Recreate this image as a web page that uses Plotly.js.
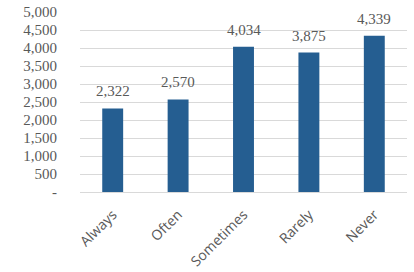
<!DOCTYPE html>
<html><head><meta charset="utf-8">
<script src="https://cdn.plot.ly/plotly-3.0.1.min.js"></script>
<style>html,body{margin:0;padding:0;background:#fff}#c{width:414px;height:272px}</style>
</head><body><div id="c"></div>
<script>
const categories = ["Always", "Often", "Sometimes", "Rarely", "Never"];
const values = [2322, 2570, 4034, 3875, 4339];
const yTickVals = [0, 500, 1000, 1500, 2000, 2500, 3000, 3500, 4000, 4500, 5000];
const yTickText = ["-", "500", "1,000", "1,500", "2,000", "2,500", "3,000", "3,500", "4,000", "4,500", "5,000"];

const trace = {
  type: "bar",
  x: categories,
  y: values,
  marker: {color: "#255e91"},
  hoverinfo: "none"
};

const annotations = categories.map((c, i) => ({
  x: c, y: values[i], xref: "x", yref: "y",
  text: values[i].toLocaleString("en-US"),
  showarrow: false, yanchor: "bottom", yshift: 7,
  font: {family: "Liberation Serif, serif", size: 15, color: "#595959"}
}));

const layout = {
  width: 414, height: 272,
  margin: {l: 80, r: 7, t: 12, b: 80},
  paper_bgcolor: "#fff", plot_bgcolor: "#fff",
  bargap: 0.68,
  showlegend: false,
  annotations: annotations,
  xaxis: {
    tickangle: -45,
    tickfont: {family: "Open Sans, sans-serif", size: 14, color: "#595959"},
    showline: true, linecolor: "#d9d9d9", linewidth: 1,
    ticks: "", showgrid: false, ticklabelstandoff: 8
  },
  yaxis: {
    range: [0, 5000],
    tickvals: yTickVals, ticktext: yTickText,
    tickfont: {family: "Liberation Serif, serif", size: 15, color: "#595959"},
    showgrid: true, gridcolor: "#d9d9d9", gridwidth: 1,
    zeroline: false, ticks: "", ticklen: 0, ticklabelstandoff: 22, automargin: false
  }
};
Plotly.newPlot("c", [trace], layout, {staticPlot: true});
</script></body></html>
